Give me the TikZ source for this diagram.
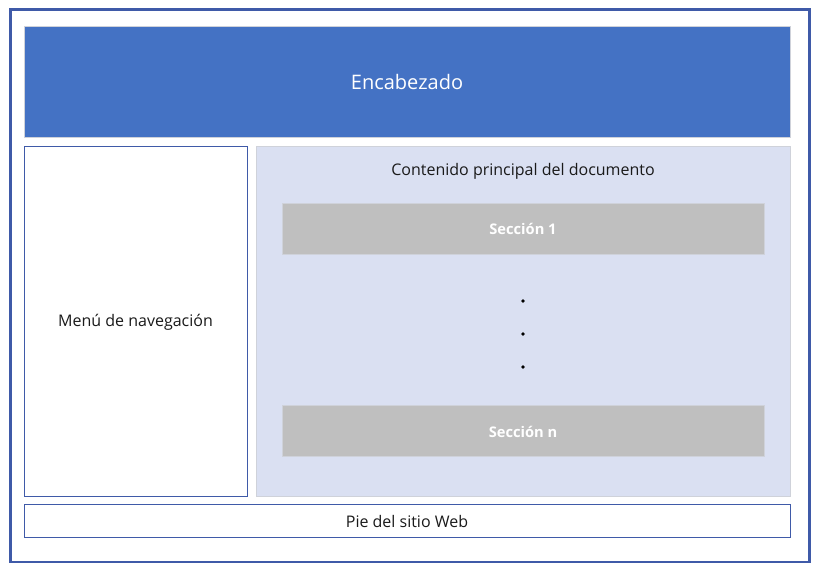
\documentclass[tikz,border=0pt]{standalone}
\usepackage{fontspec}
\setmainfont{Open Sans}
\definecolor{frameblue}{HTML}{3F5AA8}
\definecolor{headblue}{HTML}{4472C4}
\definecolor{paleblue}{HTML}{DAE0F2}
\definecolor{secgray}{HTML}{BFBFBF}
\definecolor{edgegray}{HTML}{CFD2DA}
\definecolor{txt}{HTML}{1A1A1A}
\tikzset{
  box/.style={draw, inner sep=0pt, outer sep=0pt},
  lbl/.style={font=\fontsize{12}{14}\selectfont, text=txt},
  seclbl/.style={font=\fontsize{11}{13}\selectfont\bfseries, text=white},
}
\begin{document}
\begin{tikzpicture}[x=0.75pt,y=-0.75pt]
\useasboundingbox (0,0) rectangle (822,572);
\fill[white] (0,0) rectangle (822,572);
% outer frame
\draw[frameblue, line width=1.6pt] (10.5,9.5) rectangle (809.5,562);
% header
\draw[edgegray, fill=headblue, line width=0.75pt] (24,26) rectangle (790,137);
\node[font=\fontsize{15}{17}\selectfont, text=white] (head) at (407,82) {Encabezado};
% nav menu
\draw[frameblue, line width=0.75pt] (24,146) rectangle (247,496);
\node[lbl] (nav) at (135.5,322) {Menú de navegación};
% main content
\draw[edgegray, fill=paleblue, line width=0.75pt] (256,146) rectangle (790,496);
\node[lbl] (main) at (523,171) {Contenido principal del documento};
% sections
\draw[edgegray, fill=secgray, line width=0.75pt] (282,203) rectangle (764,254);
\node[seclbl] (s1) at (523,229) {Sección 1};
\draw[edgegray, fill=secgray, line width=0.75pt] (282,405) rectangle (764,456);
\node[seclbl] (sn) at (523,432) {Sección n};
% dots
\fill[black] (523,301) circle (1.8);
\fill[black] (523,334) circle (1.8);
\fill[black] (523,367) circle (1.8);
% footer
\draw[frameblue, line width=0.75pt] (24,504) rectangle (790,537);
\node[lbl] (foot) at (407,521) {Pie del sitio Web};
\end{tikzpicture}
\end{document}
